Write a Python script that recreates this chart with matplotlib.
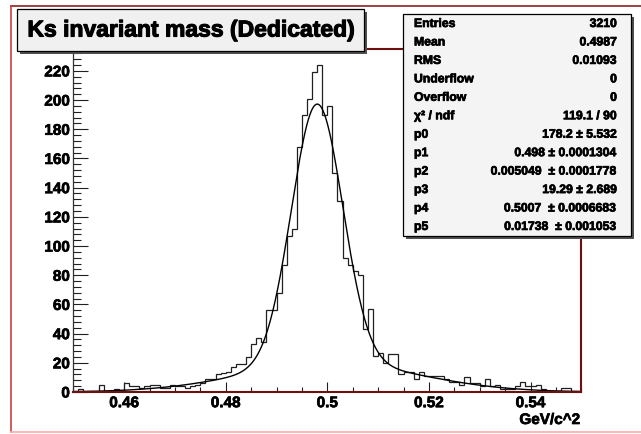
import numpy as np
import matplotlib
matplotlib.use("Agg")
import matplotlib.pyplot as plt
import matplotlib.patheffects as pe
from matplotlib.patches import Rectangle
from matplotlib.lines import Line2D
from matplotlib.ticker import MultipleLocator

plt.rcParams['font.family'] = ['Liberation Sans', 'DejaVu Sans']
plt.rcParams['font.weight'] = 'bold'

# histogram: 100 bins of 0.001 GeV between 0.45 and 0.55
x_low, x_high = 0.45, 0.55
counts = [1, 2, 0, 1, 0, 5, 1, 1, 2, 1,
          6, 4, 4, 3, 4, 5, 5, 3, 3, 5,
          4, 4, 3, 4, 5, 6, 9, 9, 12, 13,
          14, 17, 19, 19, 24, 33, 37, 34, 56, 56,
          68, 87, 107, 112, 168, 190, 201, 219, 224, 190,
          196, 150, 131, 92, 87, 83, 80, 43, 57, 25,
          27, 20, 26, 26, 12, 14, 14, 9, 14, 11,
          11, 11, 11, 9, 7, 7, 5, 10, 6, 6,
          4, 9, 4, 5, 2, 2, 2, 4, 7, 4,
          4, 5, 2, 1, 1, 1, 3, 3, 1, 1]

# double gaussian fit parameters p0..p5 (from the stats box)
fit_pars = [178.2, 0.498, 0.005049, 19.29, 0.5007, 0.01738]

stat_names = ['Entries', 'Mean', 'RMS', 'Underflow', 'Overflow', 'χ² / ndf',
              'p0', 'p1', 'p2', 'p3', 'p4', 'p5']
stat_values = ['3210', '0.4987', '0.01093', '0', '0', '119.1 / 90',
               '178.2 ± 5.532', '0.498 ± 0.0001304', '0.005049  ± 0.0001778',
               '19.29 ± 2.689', '0.5007  ± 0.0006683', '0.01738  ± 0.001053']

title = 'Ks invariant mass (Dedicated)'
x_title = 'GeV/c^2'

W, H = 641, 435
fig = plt.figure(figsize=(W / 100, H / 100), dpi=100)

# a thin outline makes the text as heavy as the ROOT rendering
heavy = [pe.withStroke(linewidth=0.5, foreground='black')]
heavy_big = [pe.withStroke(linewidth=0.8, foreground='black')]


def fx(px):
    return px / W


def fy(py):
    return 1 - py / H


# plot frame in pixels
left, right, top, bottom = 73.3, 581.3, 50, 393
ax = fig.add_axes([fx(left), fy(bottom), (right - left) / W, (bottom - top) / H])

edges = np.linspace(x_low, x_high, len(counts) + 1)
ax.stairs(counts, edges, color='#202020', lw=0.9)

p0, p1, p2, p3, p4, p5 = fit_pars
xf = np.linspace(x_low, x_high, 600)
yf = p0 * np.exp(-0.5 * ((xf - p1) / p2) ** 2) + p3 * np.exp(-0.5 * ((xf - p4) / p5) ** 2)
ax.plot(xf, yf, color='black', lw=1.0)

ax.set_xlim(x_low, x_high)
ax.set_ylim(0, 235)
ax.xaxis.set_minor_locator(MultipleLocator(0.005))
ax.yaxis.set_major_locator(MultipleLocator(20))
ax.yaxis.set_minor_locator(MultipleLocator(4))
ax.set_xticks([0.46, 0.48, 0.50, 0.52, 0.54])
ax.set_xticklabels(['0.46', '0.48', '0.5', '0.52', '0.54'])
ax.tick_params(axis='both', which='both', direction='in', colors='#202020', width=0.8)
ax.tick_params(axis='y', which='major', length=11, pad=2.5, labelsize=11)
ax.tick_params(axis='y', which='minor', length=5.5)
ax.tick_params(axis='x', which='major', length=7.4, pad=3, labelsize=11)
ax.tick_params(axis='x', which='minor', length=3.7)
for lab in ax.get_xticklabels() + ax.get_yticklabels():
    lab.set_fontweight('bold')
    lab.set_color('black')
    lab.set_path_effects(heavy)

ax.spines['left'].set_color('#303030')
ax.spines['left'].set_linewidth(0.9)
for s in ['top', 'right', 'bottom']:
    ax.spines[s].set_color('#6e1010')
    ax.spines[s].set_linewidth(1.5)

fig.text(fx(580), fy(421), x_title, ha='right', va='center',
         fontsize=11, fontweight='bold', path_effects=heavy)

# canvas border
fig.add_artist(Line2D([fx(11), fx(641)], [fy(7), fy(7)], color='#8c2020', lw=1.2))
fig.add_artist(Line2D([fx(11), fx(11)], [fy(7), fy(433)], color='#c84040', lw=1.2))
fig.add_artist(Line2D([fx(11), fx(641)], [fy(433), fy(433)], color='#ffaaaa', lw=1.2))


def box(x0, y0, x1, y1, fill, shadow=3):
    fig.add_artist(Rectangle((fx(x0 + shadow), fy(y1 + shadow)), (x1 - x0) / W, (y1 - y0) / H,
                             transform=fig.transFigure, facecolor='#505050',
                             edgecolor='none', zorder=5))
    fig.add_artist(Rectangle((fx(x0), fy(y1)), (x1 - x0) / W, (y1 - y0) / H,
                             transform=fig.transFigure, facecolor=fill,
                             edgecolor='black', lw=0.9, zorder=6))


# title box
box(17.3, 9.5, 364, 51.5, '#f0f0f0')
fig.text(fx(190.5), fy(31), title, ha='center', va='center', fontsize=16.5,
         fontweight='bold', zorder=7, path_effects=heavy_big)

# stats box
box(403.3, 15, 631, 237, '#f4f4f4')
for i, (name, val) in enumerate(zip(stat_names, stat_values)):
    yy = 25 + i * 18.45
    fig.text(fx(414), fy(yy), name, ha='left', va='center', fontsize=8.8,
             fontweight='bold', zorder=7, path_effects=heavy)
    fig.text(fx(617), fy(yy), val, ha='right', va='center', fontsize=8.8,
             fontweight='bold', zorder=7, path_effects=heavy)

fig.savefig('out.png', dpi=100)
